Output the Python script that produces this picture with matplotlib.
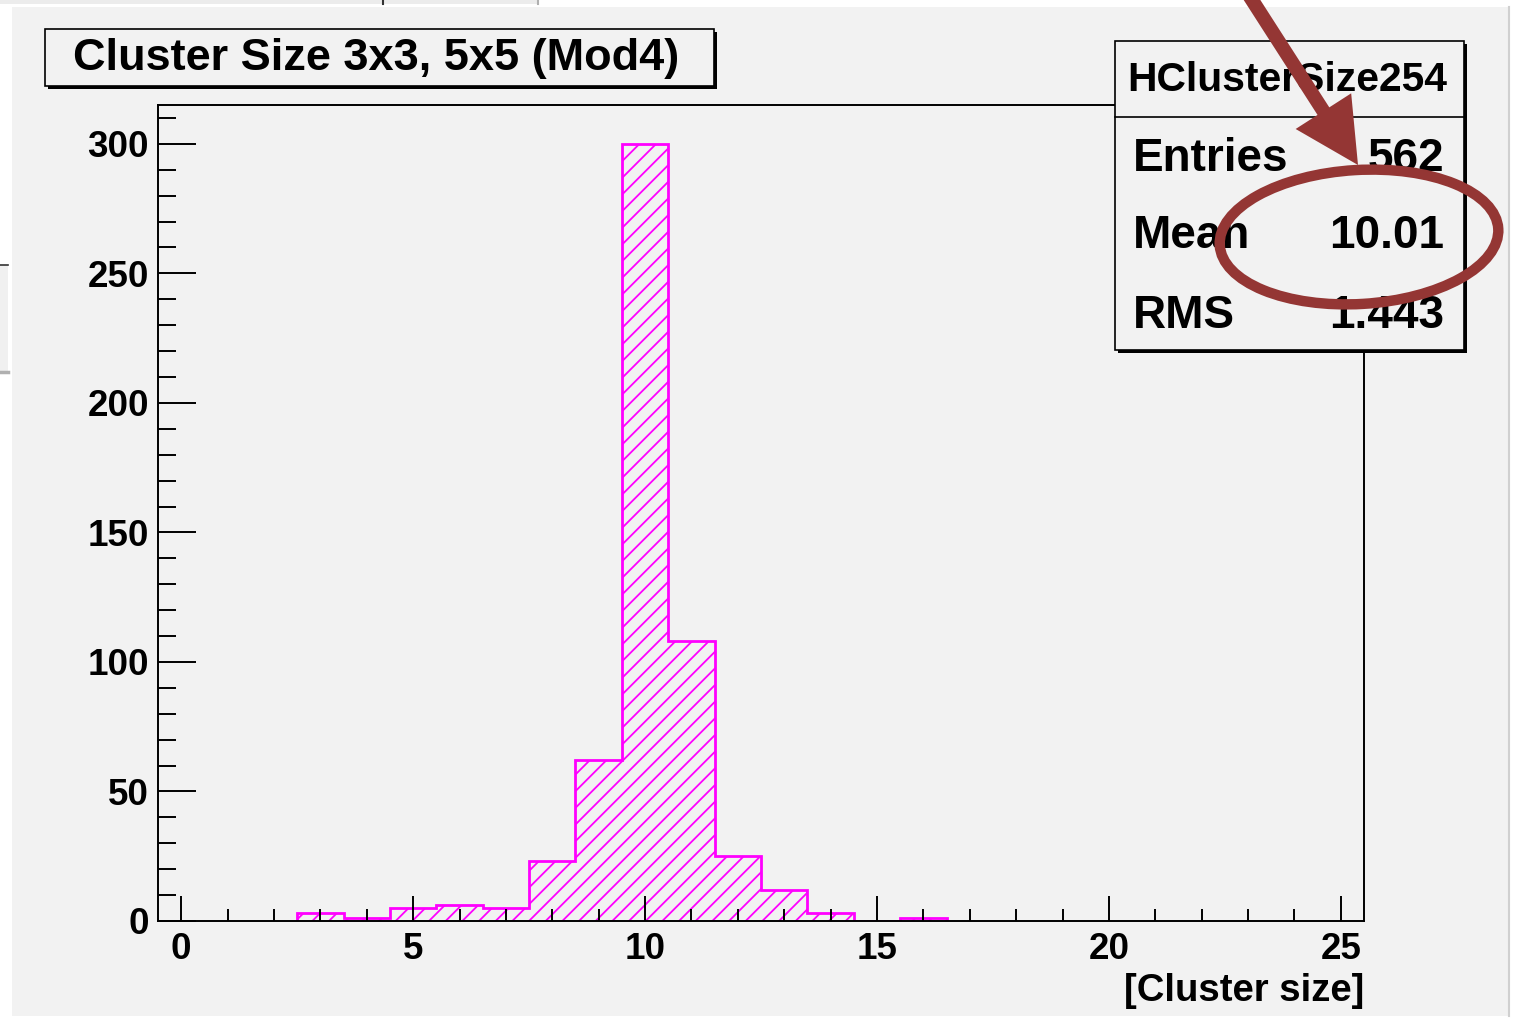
import numpy as np
import matplotlib
matplotlib.use("Agg")
import matplotlib.pyplot as plt
from matplotlib.patches import Rectangle, Ellipse, FancyArrow

plt.rcParams['font.family'] = ['Liberation Sans', 'DejaVu Sans']
plt.rcParams['font.weight'] = 'bold'
plt.rcParams['hatch.linewidth'] = 1.3

# cluster size histogram, one bin per integer size
cluster_size = [3, 4, 5, 6, 7, 8, 9, 10, 11, 12, 13, 14, 15, 16]
entries = [3, 1, 5, 6, 5, 23, 62, 300, 108, 25, 12, 3, 0, 1]

x_ticks = [0, 5, 10, 15, 20, 25]
y_ticks = [0, 50, 100, 150, 200, 250, 300]

hist_title = "Cluster Size 3x3, 5x5 (Mod4)"
hist_name = "HClusterSize254"
stat_names = ["Entries", "Mean", "RMS"]
stat_values = ["562", "10.01", "1.443"]

W, H = 1513, 1019
canvas_gray = '#f2f2f2'
line_red = '#943634'
magenta = '#ff00ff'


def px_rect(l, t, r, b):
    # pixel box -> figure fraction
    return [l / W, 1 - b / H, (r - l) / W, (b - t) / H]


fig = plt.figure(figsize=(W / 100, H / 100), dpi=100)
fig.patch.set_facecolor('white')

# canvas background + bits of the window around it
bg = fig.add_axes([0, 0, 1, 1], zorder=0)
bg.set_xlim(0, W)
bg.set_ylim(H, 0)
bg.axis('off')
bg.add_patch(Rectangle((12, 7), 1496, 1009, fc=canvas_gray, ec='none'))
bg.add_patch(Rectangle((0, 0), 538, 3.5, fc='#ececec', ec='none'))
bg.plot([383, 383], [0, 3.5], color='#333333', lw=1.5)
bg.plot([538, 538], [0, 3.5], color='#b0b0b0', lw=1.5)
bg.add_patch(Rectangle((0, 265), 8, 107, fc='#f0f0f0', ec='none'))
bg.plot([0, 8], [265, 265], color='#333333', lw=1.2)
bg.plot([0, 8], [372, 372], color='#b0b0b0', lw=2.5)
bg.plot([1509, 1509], [7, 1016], color='#d0d0d0', lw=1.5)

# histogram frame
ax = fig.add_axes(px_rect(158, 105, 1364, 921), zorder=1)
ax.set_facecolor('none')

edges = np.append(np.array(cluster_size) - 0.5, cluster_size[-1] + 0.5)
ax.stairs(entries, edges, fill=True, facecolor='none', edgecolor=magenta,
          hatch='//', linewidth=2.0)

ax.set_xlim(-0.5, 25.5)
ax.set_ylim(0, 315)
ax.set_xticks(x_ticks)
ax.set_xticks(range(0, 26), minor=True)
ax.set_yticks(y_ticks)
ax.set_yticks(range(0, 311, 10), minor=True)

for s in ax.spines.values():
    s.set_linewidth(1.4)
ax.tick_params(axis='both', which='both', direction='in', width=1.4,
               color='black', top=False, right=False)
ax.tick_params(axis='x', which='major', length=18, pad=8, labelsize=26.5)
ax.tick_params(axis='x', which='minor', length=8.5)
ax.tick_params(axis='y', which='major', length=27, pad=6.5, labelsize=26.5)
ax.tick_params(axis='y', which='minor', length=13)

ax.set_xlabel("[Cluster size]", fontsize=27.5, fontweight='bold', loc='right')
ax.xaxis.set_label_coords(1.0, -0.064)

# title pad, stats box and the red markup on top
ov = fig.add_axes([0, 0, 1, 1], zorder=5)
ov.set_xlim(0, W)
ov.set_ylim(H, 0)
ov.axis('off')
ov.patch.set_alpha(0)

ov.add_patch(Rectangle((47.6, 32.3), 669, 56.7, fc='black', ec='none'))
ov.add_patch(Rectangle((44.6, 29.3), 669, 56.7, fc=canvas_gray, ec='black', lw=1.2))
ov.text(72.7, 69.5, hist_title, fontsize=32.5, fontweight='bold',
        ha='left', va='baseline')

ov.add_patch(Rectangle((1118, 43.7), 349, 309.3, fc='black', ec='none'))
ov.add_patch(Rectangle((1115, 40.7), 349, 309.3, fc=canvas_gray, ec='black', lw=1.2))
ov.plot([1115, 1464], [116.7, 116.7], color='black', lw=1.2)
ov.text(1287, 90.7, hist_name, fontsize=29.4, fontweight='bold',
        ha='center', va='baseline')
baselines = [170.7, 248.3, 328.3]
for name, val, yb in zip(stat_names, stat_values, baselines):
    ov.text(1133, yb, name, fontsize=33, fontweight='bold', ha='left', va='baseline')
    ov.text(1444, yb, val, fontsize=33, fontweight='bold', ha='right', va='baseline')

ov.add_patch(FancyArrow(1245.6, -10, 112.4, 175, width=14, head_width=66,
                        head_length=64, length_includes_head=True,
                        color=line_red, lw=0, zorder=6))
ov.add_patch(Ellipse((1359, 237), 279, 134, angle=-3.4, fill=False,
                     ec=line_red, lw=7.5, zorder=6))

fig.savefig('out.png', dpi=100)
